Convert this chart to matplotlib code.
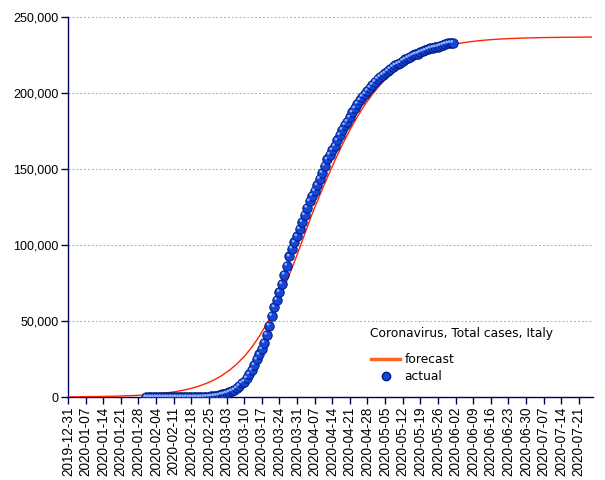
import matplotlib
matplotlib.use("Agg")
import matplotlib.pyplot as plt
import matplotlib.dates as mdates
import matplotlib.transforms as mtransforms
from matplotlib.lines import Line2D
from matplotlib.ticker import FuncFormatter
import pandas as pd

# forecast curve, every 3 days from 2020-01-01
forecast_start = "2020-01-01"
forecast_values = [
    138, 174, 220, 278, 351, 444, 560, 708, 894, 1128,
    1423, 1795, 2265, 2854, 3595, 4525, 5688, 7142, 8953, 11201,
    13985, 17394, 21568, 26615, 32662, 39829, 48190, 57794, 68627, 80551,
    93415, 106953, 120462, 132514, 144214, 155436, 165966, 175677, 184469, 192316,
    199243, 205265, 210447, 214873, 218624, 221775, 224422, 226633, 228447, 229977,
    231212, 232255, 233091, 233784, 234353, 234819, 235200, 235510, 235768, 235975,
    236144, 236286, 236399, 236491, 236566, 236628, 236678, 236718, 236753, 236779,
]

# actual total cases, daily from 2020-01-31
actual_start = "2020-01-31"
actual_values = [
    2,
    2, 2, 2, 2, 2, 2, 3, 3, 3, 3, 3, 3, 3, 3, 3, 3, 3, 3, 3, 3,
    20, 62, 155, 229, 322, 453, 655, 888, 1128,
    1694, 2036, 2502, 3089, 3858, 4636, 5883, 7375, 9172, 10149,
    12462, 15113, 17660, 21157, 24747, 27980, 31506, 35713, 41035, 47021,
    53578, 59138, 63927, 69176, 74386, 80589, 86498, 92472, 97689, 101739,
    105792,
    110574, 115242, 119827, 124632, 128948, 132547, 135586, 139422, 143626, 147577,
    152271, 156363, 159516, 162488, 165155, 168941, 172434, 175925, 178972, 181228,
    183957, 187327, 189973, 192994, 195351, 197675, 199414, 201505, 203591, 205463,
    207428, 209328, 210717, 211938, 213013, 214457, 215858, 217185, 218268, 219070,
    219814, 221216, 222104, 223096, 223885, 224760, 225435, 225886, 226699, 227364,
    228006, 228658, 229327, 229858, 230158, 230555, 231139, 231732, 232248, 232664,
    232997,
    233197,
]

y_ticks = [0, 50000, 100000, 150000, 200000, 250000]
title = "Coronavirus, Total cases, Italy"

forecast_dates = pd.date_range(forecast_start, periods=len(forecast_values), freq="3D")
actual_dates = pd.date_range(actual_start, periods=len(actual_values), freq="D")
tick_dates = pd.date_range("2019-12-31", "2020-07-21", freq="7D")

navy = "#000060"
dot_body = "#1546d8"
dot_edge = "#001880"
tick_font = ["Liberation Sans", "DejaVu Sans"]

fig = plt.figure(figsize=(6.05, 4.8), dpi=100)
ax = fig.add_axes([68 / 605, 1 - 397 / 480, (593 - 68) / 605, 380 / 480])

ax.plot(forecast_dates, forecast_values, color="#ff2200", lw=1.0, zorder=3)

# shaded "sphere" markers: dark body plus a light highlight
ax.scatter(actual_dates, actual_values, s=46, color=dot_body,
           edgecolors=dot_edge, linewidths=0.7, zorder=4)
hl = mtransforms.offset_copy(ax.transData, fig=fig, x=-0.9, y=0.9, units="points")
ax.scatter(actual_dates, actual_values, s=4, color="#8ab0ff",
           edgecolors="none", transform=hl, zorder=5)

ax.set_xlim(pd.Timestamp("2019-12-31"), pd.Timestamp("2020-07-26 15:00"))
ax.set_ylim(0, 250000)
ax.set_yticks(y_ticks)
ax.yaxis.set_major_formatter(FuncFormatter(lambda v, p: f"{int(v):,}"))
ax.set_xticks(tick_dates)
ax.xaxis.set_major_formatter(mdates.DateFormatter("%Y-%m-%d"))

for lab in ax.get_xticklabels():
    lab.set_rotation(90)
    lab.set_family(tick_font)
    lab.set_fontsize(9.8)
for lab in ax.get_yticklabels():
    lab.set_family(tick_font)
    lab.set_fontsize(9)

ax.tick_params(axis="both", colors=navy, labelcolor="black", length=5, width=1)
ax.tick_params(axis="x", pad=2)
ax.tick_params(axis="y", pad=2)
for side in ["top", "right"]:
    ax.spines[side].set_visible(False)
for side in ["left", "bottom"]:
    ax.spines[side].set_color(navy)
    ax.spines[side].set_linewidth(1)

ax.grid(axis="y", color="#aaaaaa", linestyle=(0, (2, 2)), linewidth=0.7)
ax.set_axisbelow(True)

fig.text(370 / 605, 1 - 333 / 480, title, fontsize=8.8, va="center", ha="left",
         family="DejaVu Sans")
handles = [
    Line2D([], [], color="#ff6622", lw=2.5, label="forecast"),
    Line2D([], [], color=dot_body, marker="o", markersize=6, lw=0,
           markeredgecolor=dot_edge, label="actual"),
]
fig.legend(handles=handles, loc="upper left", bbox_to_anchor=(371 / 605, 1 - 353 / 480),
           frameon=False, fontsize=8.8, handlelength=2.4, handletextpad=0.35,
           labelspacing=0.35, borderpad=0, borderaxespad=0)

fig.savefig("out.png", dpi=100)
